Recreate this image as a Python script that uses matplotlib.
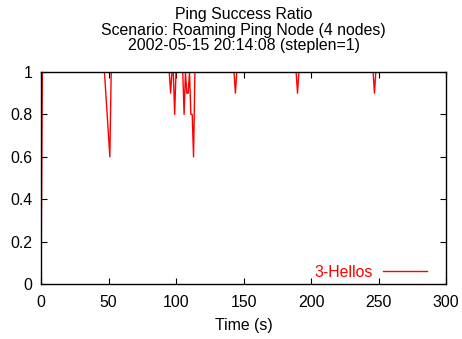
import matplotlib
matplotlib.use("Agg")
import matplotlib.pyplot as plt

plt.rcParams['font.family'] = ['Liberation Sans', 'DejaVu Sans']

# Ping success ratio samples (steplen=1); ratio stays at 1 between listed points
time_s = [0, 1, 47, 51, 52, 95, 96, 97, 98, 99, 100, 105, 106, 107, 108, 109, 110,
          111, 112, 113, 114, 143, 144, 145, 189, 190, 191, 246, 247, 248, 288]
ratio = [0, 1, 1, 0.6, 1, 1, 0.9, 1, 1, 0.8, 1, 1, 0.8, 1, 0.9, 0.9, 1,
         0.8, 0.8, 0.6, 1, 1, 0.9, 1, 1, 0.9, 1, 1, 0.9, 1, 1]
series_label = "3-Hellos"

title_lines = ["Ping Success Ratio",
               "Scenario: Roaming Ping Node (4 nodes)",
               "2002-05-15 20:14:08 (steplen=1)"]
x_ticks = [0, 50, 100, 150, 200, 250, 300]
y_ticks = [0, 0.2, 0.4, 0.6, 0.8, 1]
y_tick_labels = ["0", "0.2", "0.4", "0.6", "0.8", "1"]

FS = 11.4

fig = plt.figure(figsize=(4.62, 3.39), dpi=100)
ax = fig.add_axes([41 / 462, 1 - 284 / 339, 405 / 462, 212 / 339])

ax.plot(time_s, ratio, color='#ff0000', linewidth=1.0, label=series_label)

ax.set_xlim(0, 300)
ax.set_ylim(0, 1)
ax.set_xticks(x_ticks)
ax.set_yticks(y_ticks)
ax.set_yticklabels(y_tick_labels)
ax.tick_params(direction='in', length=4, width=0.8, top=True, right=True,
               labelsize=FS, colors='black')
ax.tick_params(axis='x', pad=8)
ax.tick_params(axis='y', pad=6)
for sp in ax.spines.values():
    sp.set_linewidth(1.0)
ax.set_xlabel("Time (s)", fontsize=FS, labelpad=6)

# gnuplot-style key: text then line sample, lower right
leg = ax.legend(loc='lower right', frameon=False, markerfirst=False,
                fontsize=FS, handlelength=2.75, handletextpad=0.65,
                borderaxespad=0, borderpad=0,
                bbox_to_anchor=(1 - 19 / 405, 4 / 212))
for t in leg.get_texts():
    t.set_color('#ff0000')

cx = (41 + 446) / 2 / 462
for i, line in enumerate(title_lines):
    fig.text(cx, 1 - (14.5 + 15.5 * i) / 339, line, ha='center', va='center', fontsize=FS)

fig.savefig("out.png", dpi=100)
